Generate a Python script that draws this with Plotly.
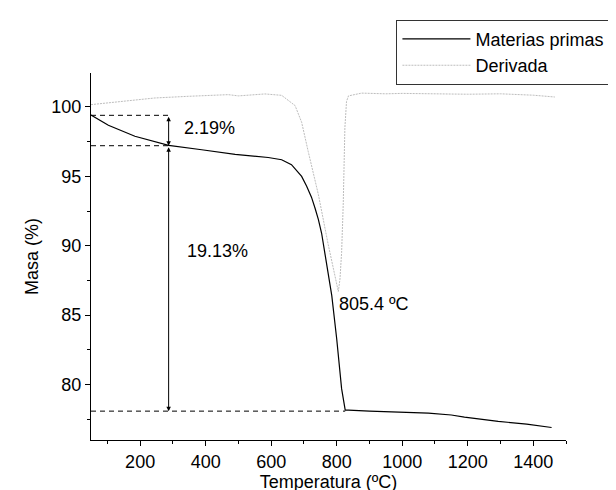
import plotly.graph_objects as go

# ---- data ----
temp_mass = [50, 103, 184, 287, 388, 490, 591, 632, 662, 693, 708, 723, 734, 744,
             754, 764, 775, 785, 800, 815, 826, 836, 900, 1000, 1080, 1150, 1190,
             1293, 1380, 1456]
mass = [99.42, 98.68, 97.89, 97.24, 96.92, 96.58, 96.36, 96.2, 95.84, 95.0, 94.3,
        93.5, 92.7, 91.9, 90.9, 89.5, 88.0, 86.4, 83.3, 79.7, 78.15, 78.15, 78.08,
        78.0, 77.94, 77.8, 77.65, 77.34, 77.15, 76.9]

temp_deriv = [50, 100, 143, 245, 347, 469, 500, 581, 632, 652, 673, 683, 693, 713,
              744, 774, 790, 800, 805, 810, 815, 820, 825, 830, 836, 876, 950, 1000,
              1100, 1200, 1300, 1400, 1466]
deriv = [100.17, 100.3, 100.41, 100.65, 100.77, 100.89, 100.8, 100.94, 100.84,
         100.5, 100.1, 99.5, 98.9, 96.8, 93.7, 90.1, 88.3, 87.2, 86.7, 87.6, 89.5,
         93.0, 98.5, 100.4, 100.8, 101.0, 100.95, 100.98, 100.95, 100.92, 100.95,
         100.85, 100.72]

step_levels = [99.40, 97.21, 78.08]      # dashed reference levels (Masa %)
step_x = 287                              # x position of the measuring arrows
step_end_x = 826                          # where the lower dashed line ends
loss_labels = ["2.19%", "19.13%"]
loss_label_pos = [(328, 98.49), (338, 89.64)]
peak_label = "805.4 ºC"
peak_label_pos = (801, 85.8)

x_range = [50, 1500]
y_range = [76, 102.45]
x_ticks = [200, 400, 600, 800, 1000, 1200, 1400]
y_ticks = [80, 85, 90, 95, 100]

FONT = "Liberation Sans, Arial, sans-serif"

fig = go.Figure()
fig.add_trace(go.Scatter(x=temp_mass, y=mass, mode="lines", name="Materias primas",
                         line=dict(color="black", width=1.2)))
fig.add_trace(go.Scatter(x=temp_deriv, y=deriv, mode="lines", name="Derivada",
                         line=dict(color="#bdbdbd", width=1, dash="2px,1px")))

# dashed reference lines
for lvl, x1 in zip(step_levels, [step_x, step_x, step_end_x]):
    fig.add_shape(type="line", xref="x", yref="y", x0=x_range[0], x1=x1, y0=lvl, y1=lvl,
                  line=dict(color="black", width=1, dash="5px,4px"))

# double-headed measuring arrows
for top, bot in [(step_levels[0], step_levels[1]), (step_levels[1], step_levels[2])]:
    fig.add_annotation(x=step_x, y=bot, ax=step_x, ay=top, xref="x", yref="y",
                       axref="x", ayref="y", text="", showarrow=True,
                       arrowhead=2, arrowside="end+start", arrowsize=0.9,
                       arrowwidth=1, arrowcolor="black", standoff=0, startstandoff=0)

for txt, (tx, ty) in zip(loss_labels, loss_label_pos):
    fig.add_annotation(x=tx, y=ty, text=txt, showarrow=False, xanchor="left",
                       yanchor="middle", font=dict(size=18, color="black", family=FONT))
fig.add_annotation(x=peak_label_pos[0], y=peak_label_pos[1], text=peak_label,
                   showarrow=False, xanchor="left", yanchor="middle",
                   font=dict(size=18, color="black", family=FONT))

axis_common = dict(showgrid=False, zeroline=False, showline=True, linecolor="black",
                   linewidth=1, ticks="outside", ticklen=5, tickwidth=1,
                   tickcolor="black", mirror=False,
                   tickfont=dict(size=18, color="black", family=FONT))

fig.update_xaxes(range=x_range, tickvals=x_ticks,
                 title=dict(text="Temperatura (ºC)", font=dict(size=18, color="black", family=FONT),
                            standoff=4),
                 minor=dict(dtick=100, tick0=0, ticks="outside", ticklen=3,
                            tickcolor="black", showgrid=False),
                 **axis_common)
fig.update_yaxes(range=y_range, tickvals=y_ticks,
                 title=dict(text="Masa (%)", font=dict(size=18, color="black", family=FONT),
                            standoff=8),
                 minor=dict(dtick=2.5, tick0=0, ticks="outside", ticklen=3,
                            tickcolor="black", showgrid=False),
                 **axis_common)

fig.update_layout(
    width=616, height=490,
    margin=dict(l=83, r=58, t=65, b=58, autoexpand=False),
    plot_bgcolor="white", paper_bgcolor="white",
    font=dict(family=FONT, size=18, color="black"),
    showlegend=True,
    legend=dict(x=0.643, y=1.1454, xanchor="left", yanchor="top",
                bordercolor="#333333", borderwidth=1, bgcolor="white",
                font=dict(size=18, color="black", family=FONT),
                itemwidth=68, tracegroupgap=0),
)

fig.write_html("out.html")
